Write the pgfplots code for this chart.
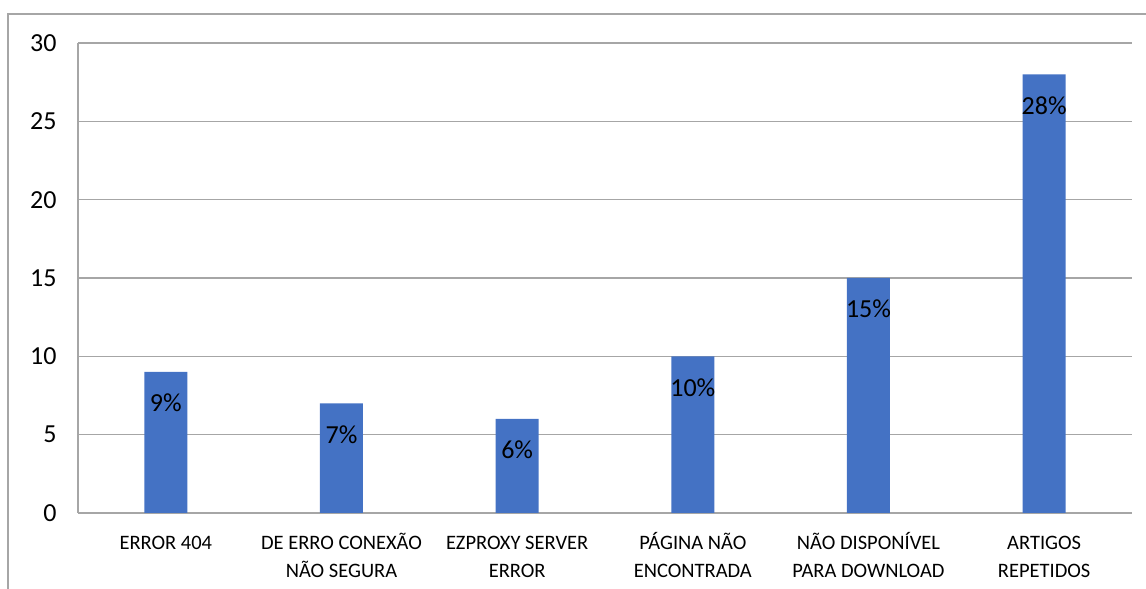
\documentclass[border=0pt]{standalone}
\usepackage{pgfplots}
\pgfplotsset{compat=1.18}
\usepackage{fontspec}
\setmainfont{Carlito}
\definecolor{barblue}{HTML}{4472C4}
\definecolor{linegray}{HTML}{A6A6A6}
\newcommand\st{\rule{0pt}{18pt}}
\begin{document}
\begin{tikzpicture}
\path[use as bounding box] (0pt,0pt) rectangle (1146pt,589pt);
\clip (0pt,0pt) rectangle (1146pt,589pt);
% chart frame, cut by the edges of the picture
\draw[linegray, line width=1.4pt] (8pt,-20pt) -- (8pt,575pt) -- (1170pt,575pt);
\begin{axis}[
    at={(78pt,76pt)}, anchor=south west,
    scale only axis,
    width=1054pt, height=470pt,
    ybar, bar width=43pt,
    xmin=-0.5, xmax=5.5,
    ymin=0, ymax=30,
    ytick={0,5,...,30},
    xtick={0,...,5},
    xticklabels={\st ERROR 404, \st DE ERRO CONEXÃO\\NÃO SEGURA, \st EZPROXY SERVER\\ERROR,
                 \st PÁGINA NÃO\\ENCONTRADA, \st NÃO DISPONÍVEL\\PARA DOWNLOAD, \st ARTIGOS\\REPETIDOS},
    major tick length=0pt,
    axis x line*=bottom, axis y line*=left,
    axis line style={linegray, line width=1.3pt},
    ymajorgrids=true,
    grid style={linegray, line width=1.3pt},
    xticklabel style={align=center, anchor=north,
        font=\fontsize{20.5}{28}\selectfont, yshift=-15pt},
    yticklabel style={font=\fontsize{26}{30}\selectfont, xshift=-18pt},
    /pgf/number format/assume math mode=true,
    point meta=y,
    nodes near coords={\pgfmathprintnumber{\pgfplotspointmeta}\%},
    every node near coord/.append style={anchor=center, yshift=-31pt,
        font=\fontsize{26}{30}\selectfont, text=black},
]
\addplot[fill=barblue, draw=none] coordinates {
    (0,9) (1,7) (2,6) (3,10) (4,15) (5,28)
};
\end{axis}
\end{tikzpicture}
\end{document}
